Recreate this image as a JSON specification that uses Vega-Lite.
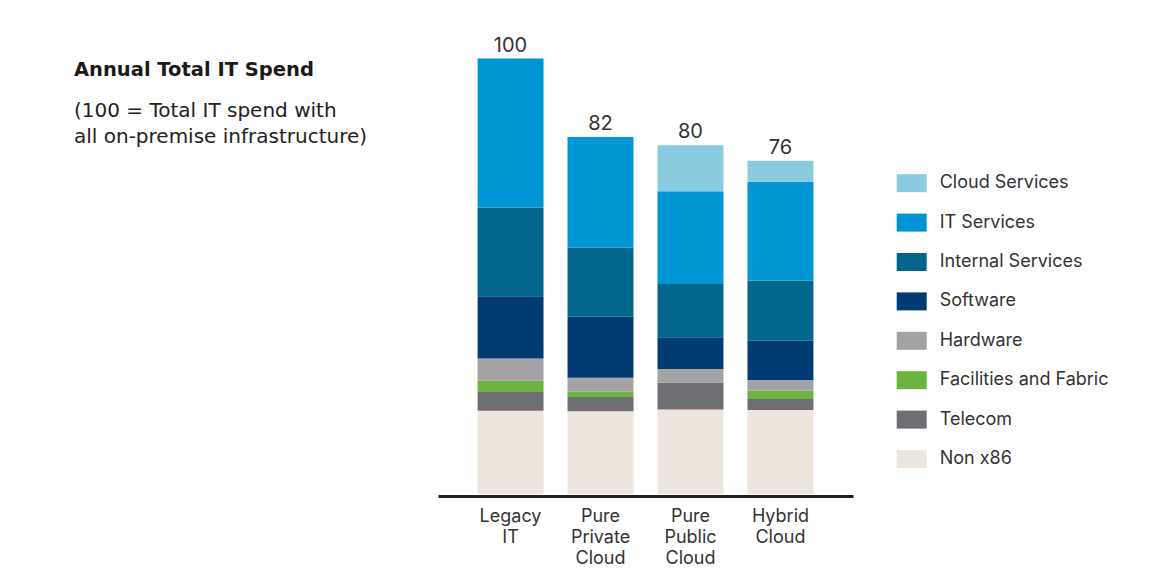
{
  "$schema": "https://vega.github.io/schema/vega-lite/v6.json",
  "width": 415,
  "height": 435.5,
  "autosize": "none",
  "padding": {"left": 438, "top": 58.5, "right": 317, "bottom": 94},
  "background": "white",
  "config": {
    "view": {"stroke": null},
    "font": "Inter",
    "legend": {"padding": 0}
  },
  "title": {
    "text": "Annual Total IT Spend",
    "subtitle": ["(100 = Total IT spend with", "all on-premise infrastructure)"],
    "anchor": "start",
    "frame": "group",
    "orient": "top",
    "dx": -364,
    "offset": -112.5,
    "font": "DejaVu Sans",
    "fontSize": 19.5,
    "fontWeight": 600,
    "color": "#1a1a1a",
    "subtitleFont": "DejaVu Sans",
    "subtitleFontSize": 20,
    "subtitleFontWeight": 400,
    "subtitleColor": "#222222",
    "subtitleLineHeight": 26,
    "subtitlePadding": 21
  },
  "datasets": {
    "spend": [
      {"scenario": "Legacy IT", "component": "Non x86", "value": 19.1},
      {"scenario": "Legacy IT", "component": "Telecom", "value": 4.3},
      {"scenario": "Legacy IT", "component": "Facilities and Fabric", "value": 2.6},
      {"scenario": "Legacy IT", "component": "Hardware", "value": 5.1},
      {"scenario": "Legacy IT", "component": "Software", "value": 14.3},
      {"scenario": "Legacy IT", "component": "Internal Services", "value": 20.4},
      {"scenario": "Legacy IT", "component": "IT Services", "value": 34.2},
      {"scenario": "Pure Private Cloud", "component": "Non x86", "value": 19.0},
      {"scenario": "Pure Private Cloud", "component": "Telecom", "value": 3.3},
      {"scenario": "Pure Private Cloud", "component": "Facilities and Fabric", "value": 1.2},
      {"scenario": "Pure Private Cloud", "component": "Hardware", "value": 3.2},
      {"scenario": "Pure Private Cloud", "component": "Software", "value": 14.0},
      {"scenario": "Pure Private Cloud", "component": "Internal Services", "value": 15.9},
      {"scenario": "Pure Private Cloud", "component": "IT Services", "value": 25.4},
      {"scenario": "Pure Public Cloud", "component": "Non x86", "value": 19.4},
      {"scenario": "Pure Public Cloud", "component": "Telecom", "value": 6.2},
      {"scenario": "Pure Public Cloud", "component": "Hardware", "value": 3.1},
      {"scenario": "Pure Public Cloud", "component": "Software", "value": 7.3},
      {"scenario": "Pure Public Cloud", "component": "Internal Services", "value": 12.2},
      {"scenario": "Pure Public Cloud", "component": "IT Services", "value": 21.3},
      {"scenario": "Pure Public Cloud", "component": "Cloud Services", "value": 10.6},
      {"scenario": "Hybrid Cloud", "component": "Non x86", "value": 19.3},
      {"scenario": "Hybrid Cloud", "component": "Telecom", "value": 2.5},
      {"scenario": "Hybrid Cloud", "component": "Facilities and Fabric", "value": 1.9},
      {"scenario": "Hybrid Cloud", "component": "Hardware", "value": 2.5},
      {"scenario": "Hybrid Cloud", "component": "Software", "value": 9.0},
      {"scenario": "Hybrid Cloud", "component": "Internal Services", "value": 13.8},
      {"scenario": "Hybrid Cloud", "component": "IT Services", "value": 22.7},
      {"scenario": "Hybrid Cloud", "component": "Cloud Services", "value": 4.8}
    ],
    "totals": [
      {"scenario": "Legacy IT", "label": "100"},
      {"scenario": "Pure Private Cloud", "label": "82"},
      {"scenario": "Pure Public Cloud", "label": "80"},
      {"scenario": "Hybrid Cloud", "label": "76"}
    ]
  },
  "data": {"name": "spend"},
  "transform": [
    {"calculate": "indexof(['Non x86','Telecom','Facilities and Fabric','Hardware','Software','Internal Services','IT Services','Cloud Services'], datum.component)", "as": "stackOrder"}
  ],
  "encoding": {
    "x": {
      "field": "scenario",
      "type": "nominal",
      "sort": ["Legacy IT", "Pure Private Cloud", "Pure Public Cloud", "Hybrid Cloud"],
      "scale": {"paddingInner": 0.267, "paddingOuter": 0.44},
      "axis": {
        "title": null,
        "labelAngle": 0,
        "labelExpr": "split(datum.label, ' ')",
        "labelFont": "Inter",
        "labelFontSize": 18,
        "labelLineHeight": 21,
        "labelColor": "#333333",
        "labelPadding": 11,
        "ticks": false,
        "tickSize": 0,
        "domainColor": "#222222",
        "domainWidth": 3,
        "offset": 2,
        "labelBaseline": "top"
      }
    }
  },
  "layer": [
    {
      "mark": {"type": "bar"},
      "encoding": {
        "y": {
          "field": "value",
          "type": "quantitative",
          "stack": "zero",
          "scale": {"domain": [0, 100], "nice": false, "zero": true},
          "axis": null
        },
        "color": {
          "field": "component",
          "type": "nominal",
          "scale": {
            "domain": ["Cloud Services", "IT Services", "Internal Services", "Software", "Hardware", "Facilities and Fabric", "Telecom", "Non x86"],
            "range": ["#8ACBE0", "#0096D5", "#02668D", "#013B74", "#A3A3A6", "#6DB33F", "#6E6E73", "#EDE6DD"]
          },
          "legend": {
            "title": null,
            "orient": "none",
            "legendX": 458.7,
            "legendY": 109.7,
            "symbolType": "M-1,-0.6H1V0.6H-1Z",
            "symbolSize": 900,
            "symbolStrokeWidth": 0,
            "symbolOpacity": 1,
            "rowPadding": 15.4,
            "labelOffset": 13,
            "labelFont": "Inter",
            "labelFontSize": 18,
            "labelColor": "#333333",
            "labelLimit": 300
          }
        },
        "order": {"field": "stackOrder", "type": "quantitative", "sort": "ascending"}
      }
    },
    {
      "transform": [
        {"aggregate": [{"op": "sum", "field": "value", "as": "total"}], "groupby": ["scenario"]},
        {"lookup": "scenario", "from": {"data": {"name": "totals"}, "key": "scenario", "fields": ["label"]}}
      ],
      "mark": {"type": "text", "baseline": "bottom", "dy": -3, "font": "Inter", "fontSize": 20, "color": "#333333"},
      "encoding": {
        "y": {"field": "total", "type": "quantitative"},
        "text": {"field": "label", "type": "nominal"}
      }
    }
  ]
}
